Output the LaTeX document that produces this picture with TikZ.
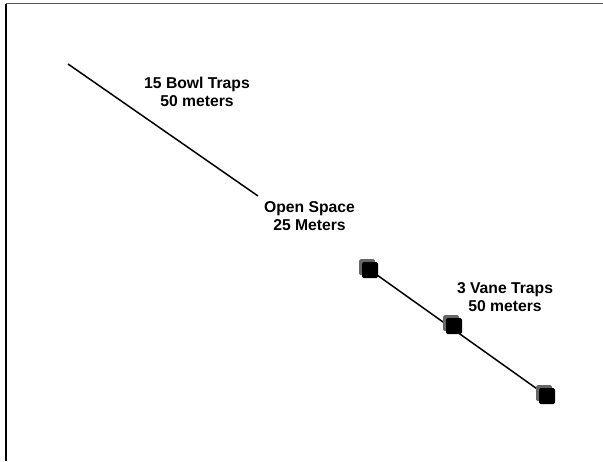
\documentclass[tikz,border=0pt]{standalone}
\usepackage{fontspec}
\setmainfont{Liberation Sans}
\usetikzlibrary{shadows,backgrounds}
\begin{document}
\begin{tikzpicture}[x=1pt,y=-1pt,
  lbl/.style={font=\bfseries\fontsize{15.7}{18}\selectfont, align=center, anchor=base, inner sep=0pt},
  trap/.style={fill=black, draw=none, minimum size=16pt, inner sep=0pt, rounded corners=1.5pt,
    general shadow={shadow xshift=-2.8pt, shadow yshift=2.8pt, fill=black!60, rounded corners=0pt}},
  seg/.style={line width=1.5pt, black}]
\useasboundingbox (0,0) rectangle (603,461);
\draw[line width=1.4pt, black!65] (6,3.5) -- (603,3.5);
\draw[line width=1.4pt, black] (6,3.5) -- (6,461);
% bowl trap transect
\coordinate (a1) at (68,64);
\coordinate (a2) at (258,196);
\draw[seg] (a1) -- (a2);
% vane trap transect
\coordinate (c1) at (370,270);
\coordinate (c2) at (454,326);
\coordinate (c3) at (547,396);
\draw[seg] (c1) -- (c3);
\node[trap] (s1) at (c1) {};
\node[trap] (s2) at (c2) {};
\node[trap] (s3) at (c3) {};
% labels
\node[lbl] (bowl) at (197,106) {15 Bowl Traps\\50 meters};
\node[lbl] (open) at (309.5,230) {Open Space\\25 Meters};
\node[lbl] (vane) at (505,311) {3 Vane Traps\\50 meters};
\end{tikzpicture}
\end{document}
